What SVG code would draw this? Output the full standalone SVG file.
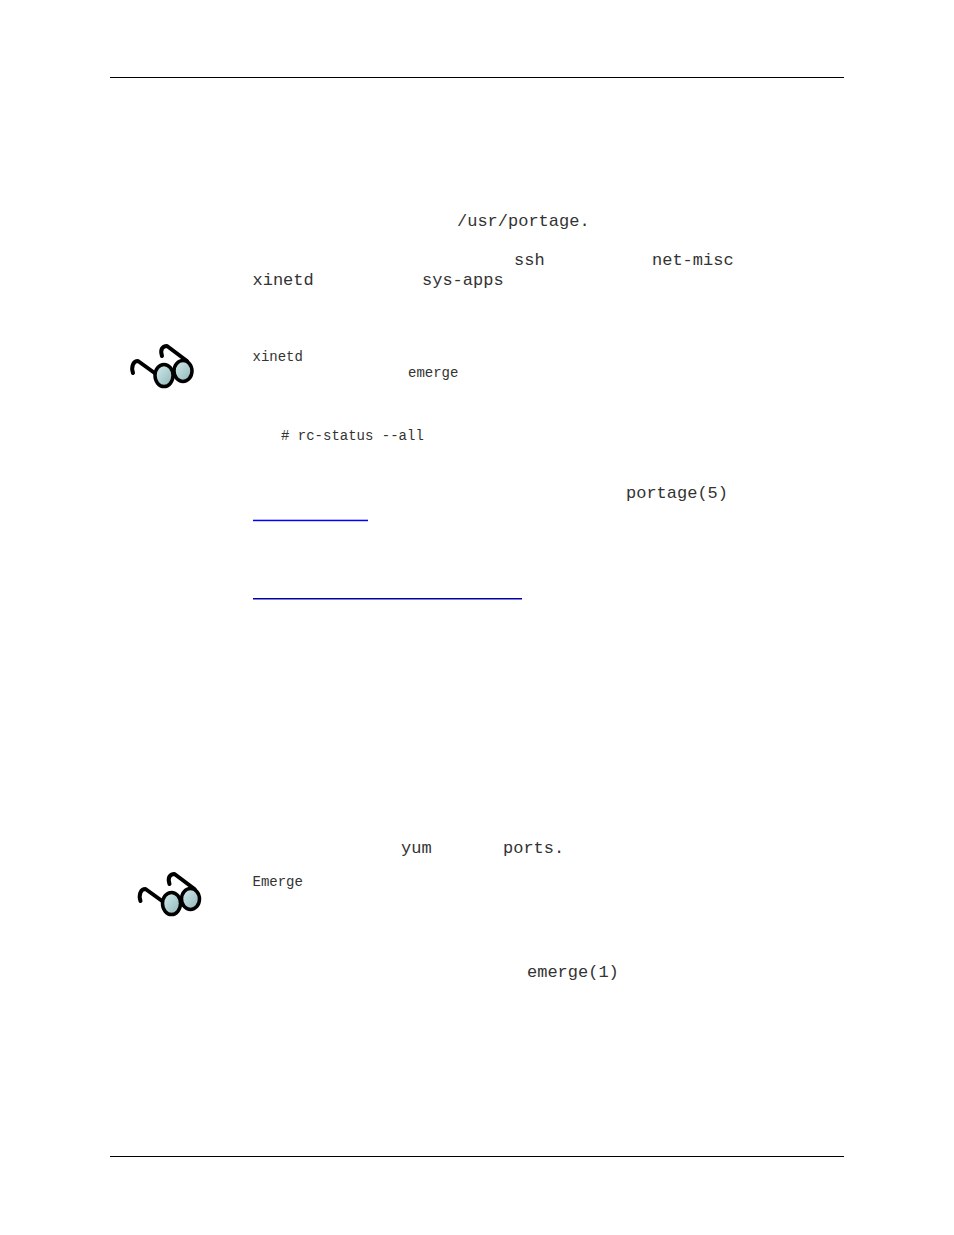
<svg xmlns="http://www.w3.org/2000/svg" width="954" height="1235" viewBox="0 0 954 1235">
<style>
text{font-family:"Liberation Mono","DejaVu Sans Mono",monospace;fill:#333}
.b{font-size:17px}
.s{font-size:14px}
.t{fill:none;stroke:#000;stroke-width:4px;stroke-linecap:round;stroke-linejoin:round}
.l{stroke:#000;stroke-width:3.500px}
</style>
<defs>
<linearGradient id="lens" x1="0" y1="0" x2="1" y2="1"><stop offset="0" stop-color="#d4eeee"/><stop offset="1" stop-color="#8fb4b8"/></linearGradient>
<g id="glasses">
<path class="t" d="M133 373C131 367 133 361 138 361L156 374"/>
<path class="t" d="M162 356C160 350 162 346 167 346L187 361"/>
<ellipse class="l" cx="183" cy="371" rx="9" ry="10.500" fill="url(#lens)"/>
<ellipse class="l" cx="164" cy="375.500" rx="9" ry="11" fill="url(#lens)"/>
</g>
</defs>
<rect width="954" height="1235" fill="#fff"/>
<g id="rules">
<rect x="110" y="77" width="734" height="1" fill="#000"/>
<rect x="110" y="1156" width="734" height="1" fill="#000"/>
<rect x="253" y="519.700" width="115" height="1.500" fill="#00f"/>
<rect x="253" y="598" width="269" height="1.500" fill="#00a"/>
</g>
<g id="glasses-1"><use href="#glasses"/></g>
<g id="glasses-2"><use href="#glasses" transform="translate(7.500 528)"/></g>
<g id="text">
<text class="b" x="457" y="226">/usr/portage.</text>
<text class="b" x="514" y="265">ssh</text>
<text class="b" x="652" y="265">net-misc</text>
<text class="b" x="252.500" y="285">xinetd</text>
<text class="b" x="422" y="285">sys-apps</text>
<text class="s" x="252.500" y="361">xinetd</text>
<text class="s" x="408" y="377">emerge</text>
<text class="s" x="281" y="440">#&#160;rc-status&#160;--all</text>
<text class="b" x="626" y="498">portage(5)</text>
<text class="b" x="401" y="853">yum</text>
<text class="b" x="503" y="853">ports.</text>
<text class="s" x="252.500" y="886">Emerge</text>
<text class="b" x="527" y="977">emerge(1)</text>
</g>
</svg>
